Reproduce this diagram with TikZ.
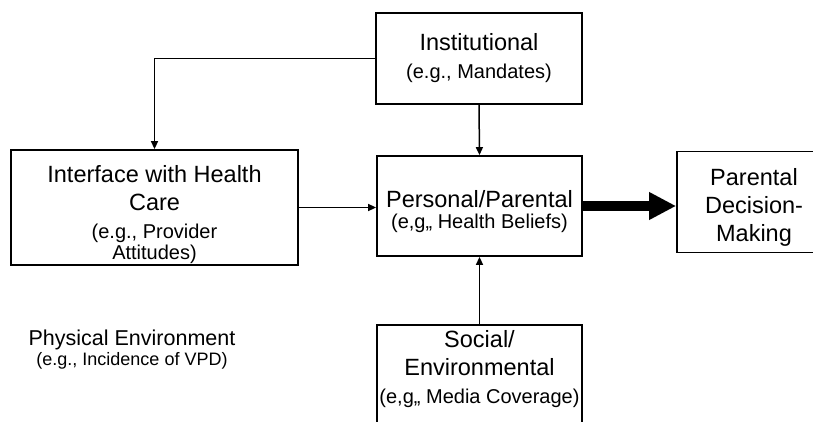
\documentclass[tikz,border=0pt]{standalone}
\usepackage{fontspec}
\setmainfont{Liberation Sans}
\usetikzlibrary{arrows.meta}

\newcommand{\hd}{\fontsize{23.5}{28}\selectfont}
\newcommand{\eg}{\fontsize{20}{21}\selectfont}

\begin{document}
\begin{tikzpicture}[x=1pt,y=-1pt,
    box/.style={draw, line width=1.8pt, align=center, inner xsep=1pt, inner ysep=6pt, font=\hd},
    thin/.style={line width=1.5pt, -{Triangle[length=8pt,width=7pt]}},
    fat/.style={line width=10pt, -{Triangle[length=27pt,width=26pt]}}]
    \useasboundingbox (0,0) rectangle (813,422);
    \clip (0,0) rectangle (813,422);

    % institutional
    \node[box, minimum width=206pt, minimum height=91pt] (inst) at (479,58.5)
    {Institutional\\{\eg (e.g., Mandates)}};

    % interface with health care
    \node[box, minimum width=287pt, minimum height=115pt, inner ysep=0pt] (iface) at (154.5,207.5)
    {\rule{0pt}{32pt}Interface with Health\\Care\\{\eg (e.g., Provider}\\[-7pt]{\eg Attitudes)}};

    % personal/parental
    \node[box, minimum width=205pt, minimum height=100pt] (pers) at (479.5,206)
    {\rule{0pt}{28pt}Personal/Parental\\[-7pt]{\eg (e,g,, Health Beliefs)}};

    % decision
    \node[box, minimum width=154pt, minimum height=92pt] (pars) at (754,202)
    {\rule{0pt}{28pt}Parental\\Decision-\\Making};

    % social/environmental
    \node[box, anchor=north, minimum width=205pt, text depth=40pt] (soc) at (479.5,324)
    {Social/\\Environmental\\{\eg (e,g,, Media Coverage)}};

    % physical environment
    \node[align=center, font=\fontsize{21.5}{26}\selectfont] (phys) at (132,350)
    {Physical Environment\\[-6pt]{\fontsize{18}{21}\selectfont (e.g., Incidence of VPD)}};

    % arrows
    \draw[thin] (inst.west) -| (iface.north);
    \draw[thin] (inst.south) -- (pers.north);
    \draw[thin] (iface.east) -- (iface.east -| pers.west);
    \draw[thin] (soc.north) -- (pers.south);
    \draw[fat] (pers.east) -- (pers.east -| pars.west);
\end{tikzpicture}
\end{document}
